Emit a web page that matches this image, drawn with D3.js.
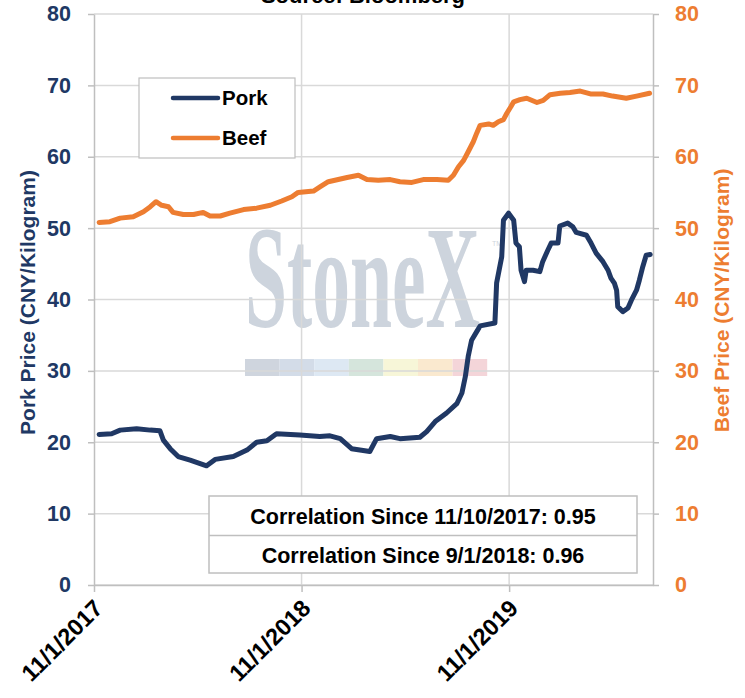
<!DOCTYPE html>
<html>
<head>
<meta charset="utf-8">
<script src="https://cdn.jsdelivr.net/npm/d3@7"></script>
<style>
  body { margin: 0; background: #fff; }
  svg { font-family: 'Liberation Sans', Arial, sans-serif; font-weight: bold; }
</style>
</head>
<body>
<svg id="chart" width="745" height="698"></svg>
<script>
// Pork and beef prices, CNY per kilogram
const porkDates = ['2017-11-10', '2017-12-02', '2017-12-17', '2018-01-15', '2018-02-08', '2018-02-25',
  '2018-03-03', '2018-03-15', '2018-03-29', '2018-04-19', '2018-05-18', '2018-06-02', '2018-07-04',
  '2018-07-28', '2018-08-14', '2018-09-01', '2018-09-18', '2018-10-29', '2018-12-03', '2018-12-21',
  '2019-01-08', '2019-01-28', '2019-03-01', '2019-03-13', '2019-04-06', '2019-04-23', '2019-05-28',
  '2019-06-09', '2019-06-24', '2019-07-14', '2019-08-01', '2019-08-10', '2019-08-16', '2019-08-21',
  '2019-08-27', '2019-09-05', '2019-09-11', '2019-10-07', '2019-10-10', '2019-10-19', '2019-10-22',
  '2019-10-31', '2019-11-09', '2019-11-13', '2019-11-19', '2019-11-22', '2019-11-28', '2019-12-01',
  '2019-12-13', '2019-12-25', '2019-12-30', '2020-01-08', '2020-01-14', '2020-01-26', '2020-01-29',
  '2020-02-12', '2020-02-21', '2020-02-27', '2020-03-16', '2020-03-24', '2020-04-02', '2020-04-14',
  '2020-04-23', '2020-04-28', '2020-05-04', '2020-05-08', '2020-05-10', '2020-05-19', '2020-05-28',
  '2020-06-03', '2020-06-12', '2020-06-17', '2020-06-23', '2020-06-29', '2020-07-06'];
const porkValues = [21.1, 21.2, 21.7, 21.9, 21.7, 21.6,
  20.3, 19.1, 18.0, 17.5, 16.7, 17.6, 18.0,
  18.9, 20.0, 20.2, 21.2, 21.0, 20.8, 20.9,
  20.5, 19.1, 18.7, 20.5, 20.8, 20.5, 20.7,
  21.5, 22.9, 24.1, 25.4, 26.9, 29.2, 32.0,
  34.3, 35.5, 36.3, 36.7, 42.3, 46.0, 51.1,
  52.1, 51.1, 47.9, 47.4, 44.1, 42.5, 44.1,
  44.1, 43.9, 45.3, 46.9, 47.9, 47.9, 50.3,
  50.7, 50.2, 49.4, 49.0, 47.9, 46.5, 45.3,
  44.1, 43.0, 42.3, 41.3, 39.0, 38.3, 38.8,
  39.9, 41.3, 42.7, 44.6, 46.2, 46.3];

const beefDates = ['2017-11-10', '2017-11-29', '2017-12-17', '2018-01-09', '2018-01-27', '2018-02-08',
  '2018-02-18', '2018-02-28', '2018-03-12', '2018-03-20', '2018-04-07', '2018-04-25', '2018-05-12',
  '2018-05-24', '2018-06-11', '2018-06-28', '2018-07-22', '2018-08-14', '2018-09-07', '2018-09-27',
  '2018-10-15', '2018-10-26', '2018-11-22', '2018-12-04', '2018-12-18', '2019-01-20', '2019-02-09',
  '2019-02-24', '2019-03-16', '2019-04-06', '2019-04-23', '2019-05-14', '2019-06-03', '2019-06-27',
  '2019-07-17', '2019-07-26', '2019-08-04', '2019-08-13', '2019-08-21', '2019-08-30', '2019-09-05',
  '2019-09-11', '2019-09-26', '2019-10-04', '2019-10-13', '2019-10-22', '2019-10-28', '2019-11-04',
  '2019-11-09', '2019-11-20', '2019-12-02', '2019-12-20', '2019-12-31', '2020-01-12', '2020-01-30',
  '2020-02-16', '2020-03-05', '2020-03-23', '2020-04-14', '2020-05-01', '2020-05-25', '2020-06-12',
  '2020-07-05'];
const beefValues = [50.8, 50.9, 51.4, 51.6, 52.3, 53.0,
  53.7, 53.2, 53.0, 52.2, 51.9, 51.9, 52.2,
  51.7, 51.7, 52.1, 52.6, 52.8, 53.2, 53.8,
  54.4, 55.0, 55.2, 55.8, 56.5, 57.1, 57.4,
  56.8, 56.7, 56.8, 56.5, 56.4, 56.8, 56.8,
  56.7, 57.4, 58.6, 59.5, 60.7, 62.1, 63.3,
  64.4, 64.6, 64.4, 64.9, 65.2, 66.1, 67.0,
  67.7, 68.0, 68.2, 67.6, 67.9, 68.7, 68.9,
  69.0, 69.2, 68.8, 68.8, 68.5, 68.2, 68.5,
  68.9];

const yTicks = [0, 10, 20, 30, 40, 50, 60, 70, 80];
const xTickDates = ['2017-11-01', '2018-11-01', '2019-11-01'];
const xTickLabels = ['11/1/2017', '11/1/2018', '11/1/2019'];
const xDomain = ['2017-11-01', '2020-07-11'];
const seriesNames = ['Pork', 'Beef'];
const correlationLabels = ['Correlation Since 11/10/2017: 0.95', 'Correlation Since 9/1/2018: 0.96'];
const sourceLabel = 'Source: Bloomberg';

// ----------------------------------------------------------

const porkColor = '#203864';
const beefColor = '#ed7d31';
const gridColor = '#d9d9d9';
const axisColor = '#bfbfbf';

const plotLeft = 94;
const plotRight = 653;
const plotTop = 14;
const plotBottom = 585;

const parseDate = d3.timeParse('%Y-%m-%d');

const pork = porkDates.map((d, i) => ({ date: parseDate(d), value: porkValues[i] }));
const beef = beefDates.map((d, i) => ({ date: parseDate(d), value: beefValues[i] }));

const xScale = d3.scaleTime()
  .domain(xDomain.map(parseDate))
  .range([plotLeft, plotRight]);

// both axes run 0-80, one for each series
const yPork = d3.scaleLinear().domain([0, 80]).range([plotBottom, plotTop]);
const yBeef = d3.scaleLinear().domain([0, 80]).range([plotBottom, plotTop]);

const svg = d3.select('#chart');

// watermark
const mark = svg.append('g').attr('class', 'watermark');
mark.append('text')
  .text('StoneX')
  .attr('x', 245)
  .attr('y', 327)
  .attr('font-family', "'Liberation Serif', 'DejaVu Serif', serif")
  .attr('font-weight', 'bold')
  .attr('font-size', 146)
  .attr('textLength', 235)
  .attr('lengthAdjust', 'spacingAndGlyphs')
  .attr('fill', '#cdd4dd');
mark.append('text')
  .text('TM')
  .attr('x', 492)
  .attr('y', 246)
  .attr('font-size', 7)
  .attr('font-weight', 'normal')
  .attr('fill', '#d0d6de');
const barColors = ['#cfd5de', '#d3dce8', '#dde8f3', '#d5e5dc', '#f7f6d8', '#fae9cf', '#f4d5d9'];
mark.selectAll('rect')
  .data(barColors)
  .enter()
  .append('rect')
  .attr('x', (d, i) => 245 + i * 34.6)
  .attr('y', 359)
  .attr('width', 34.6)
  .attr('height', 17)
  .attr('fill', d => d);

// gridlines
svg.append('g')
  .selectAll('line')
  .data(yTicks)
  .enter()
  .append('line')
  .attr('x1', plotLeft)
  .attr('x2', plotRight)
  .attr('y1', d => yPork(d))
  .attr('y2', d => yPork(d))
  .attr('stroke', gridColor)
  .attr('stroke-width', 1.5);

svg.append('g')
  .selectAll('line')
  .data(xTickDates.slice(1))
  .enter()
  .append('line')
  .attr('x1', d => xScale(parseDate(d)))
  .attr('x2', d => xScale(parseDate(d)))
  .attr('y1', plotTop)
  .attr('y2', plotBottom)
  .attr('stroke', gridColor)
  .attr('stroke-width', 1.5);

// left axis (pork)
const leftAxis = svg.append('g')
  .attr('transform', `translate(${plotLeft},0)`)
  .call(d3.axisLeft(yPork).tickValues(yTicks).tickSize(6).tickSizeOuter(0).tickPadding(17));
leftAxis.selectAll('text')
  .attr('fill', porkColor)
  .attr('font-size', 21.5)
  .attr('font-family', null);

// right axis (beef)
const rightAxis = svg.append('g')
  .attr('transform', `translate(${plotRight},0)`)
  .call(d3.axisRight(yBeef).tickValues(yTicks).tickSize(6).tickSizeOuter(0).tickPadding(16));
rightAxis.selectAll('text')
  .attr('fill', beefColor)
  .attr('font-size', 21.5)
  .attr('font-family', null);

// bottom axis
const xAxis = svg.append('g')
  .attr('transform', `translate(0,${plotBottom})`)
  .call(d3.axisBottom(xScale)
    .tickValues(xTickDates.map(parseDate))
    .tickSize(7)
    .tickSizeOuter(0)
    .tickFormat((d, i) => xTickLabels[i]));
xAxis.selectAll('text')
  .attr('fill', '#000')
  .attr('font-size', 23.5)
  .attr('font-family', null)
  .attr('text-anchor', 'end')
  .attr('x', 0)
  .attr('y', 0)
  .attr('dy', '0.35em')
  .attr('transform', 'translate(4,19) rotate(-45)');

svg.selectAll('.domain, .tick line')
  .attr('stroke', axisColor)
  .attr('stroke-width', 1.5);

// axis titles
svg.append('text')
  .text('Pork Price (CNY/Kilogram)')
  .attr('transform', `translate(35,${(plotTop + plotBottom) / 2 + 3}) rotate(-90)`)
  .attr('text-anchor', 'middle')
  .attr('font-size', 21)
  .attr('fill', porkColor);

svg.append('text')
  .text('Beef Price (CNY/Kilogram)')
  .attr('transform', `translate(729,${(plotTop + plotBottom) / 2 + 1}) rotate(-90)`)
  .attr('text-anchor', 'middle')
  .attr('font-size', 21)
  .attr('fill', beefColor);

// source line, clipped at top like the original
svg.append('text')
  .text(sourceLabel)
  .attr('x', 363)
  .attr('y', 3)
  .attr('text-anchor', 'middle')
  .attr('font-size', 22)
  .attr('fill', '#000');

// the two price lines
const porkLine = d3.line()
  .x(d => xScale(d.date))
  .y(d => yPork(d.value))
  .curve(d3.curveLinear);

const beefLine = d3.line()
  .x(d => xScale(d.date))
  .y(d => yBeef(d.value))
  .curve(d3.curveLinear);

svg.append('path')
  .attr('d', beefLine(beef))
  .attr('stroke', beefColor)
  .attr('stroke-width', 5)
  .attr('stroke-linejoin', 'round')
  .attr('stroke-linecap', 'round')
  .attr('fill', 'none');

svg.append('path')
  .attr('d', porkLine(pork))
  .attr('stroke', porkColor)
  .attr('stroke-width', 5)
  .attr('stroke-linejoin', 'round')
  .attr('stroke-linecap', 'round')
  .attr('fill', 'none');

// legend
const legend = svg.append('g').attr('transform', 'translate(139,78)');
legend.append('rect')
  .attr('width', 156)
  .attr('height', 80)
  .attr('fill', '#fff')
  .attr('stroke', axisColor)
  .attr('stroke-width', 1.2);
const legendItems = legend.selectAll('g')
  .data(seriesNames)
  .enter()
  .append('g')
  .attr('transform', (d, i) => `translate(0,${20 + i * 40})`);
legendItems.append('line')
  .attr('x1', 34)
  .attr('x2', 79)
  .attr('stroke', (d, i) => [porkColor, beefColor][i])
  .attr('stroke-width', 4.5)
  .attr('stroke-linecap', 'round');
legendItems.append('text')
  .text(d => d)
  .attr('x', 83)
  .attr('dy', '0.36em')
  .attr('font-size', 20.5)
  .attr('fill', '#000');

// correlation table
const table = svg.append('g').attr('transform', 'translate(209,496)');
table.append('rect')
  .attr('width', 428)
  .attr('height', 77)
  .attr('fill', '#fff')
  .attr('stroke', axisColor)
  .attr('stroke-width', 1.5);
table.append('line')
  .attr('x1', 0)
  .attr('x2', 428)
  .attr('y1', 39.5)
  .attr('y2', 39.5)
  .attr('stroke', axisColor)
  .attr('stroke-width', 1.5);
table.selectAll('text')
  .data(correlationLabels)
  .enter()
  .append('text')
  .text(d => d)
  .attr('x', 214)
  .attr('y', (d, i) => 20 + i * 39)
  .attr('dy', '0.36em')
  .attr('text-anchor', 'middle')
  .attr('font-size', 21.5)
  .attr('fill', '#000');
</script>
</body>
</html>
